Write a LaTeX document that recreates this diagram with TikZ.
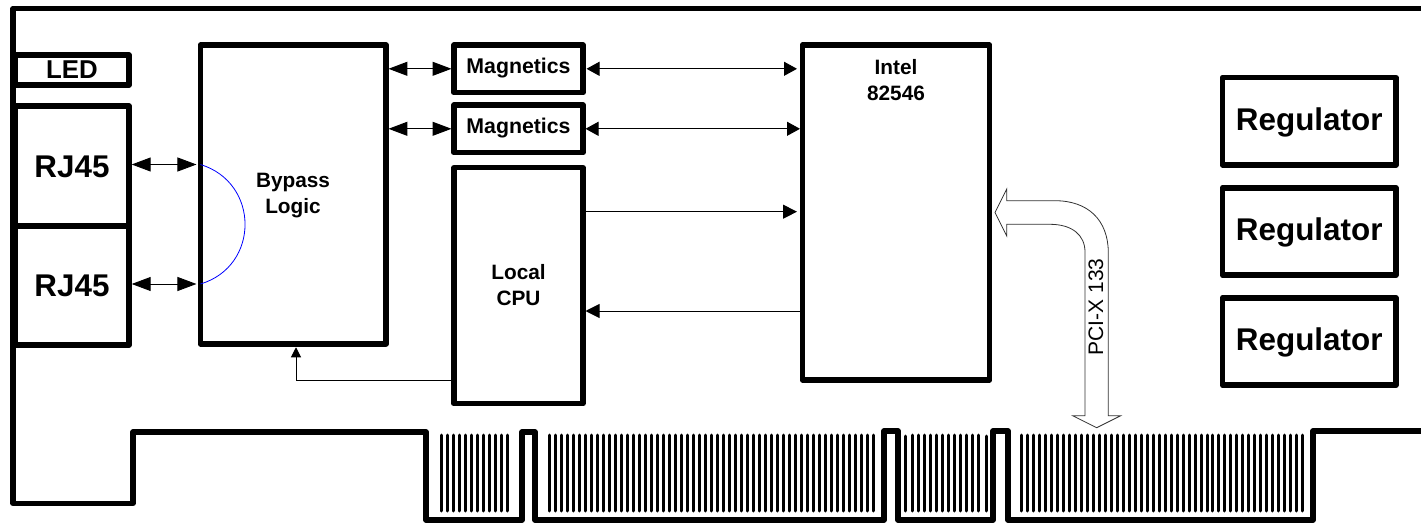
\documentclass[tikz,border=0pt]{standalone}
\usepackage{fontspec}
\setmainfont{Liberation Sans}
\usetikzlibrary{arrows.meta,calc}
\tikzset{
  x=1pt,y=-1pt,
  blockbox/.style={draw=black,line width=5.6pt,line join=round,fill=none,inner sep=0pt,outer sep=0pt,align=center,font=\bfseries},
  txtA/.style={font=\fontsize{31.4}{36}\bfseries\selectfont,yshift=-2pt},
  txtB/.style={font=\fontsize{20.8}{26}\bfseries\selectfont,yshift=-1.5pt},
  board/.style={draw=black,line width=5.4pt,line join=round},
  tooth/.style={draw=black,line width=3pt,line cap=round},
  wire/.style={draw=black,line width=1pt},
  bigdbl/.style={wire,{Triangle[length=19pt,width=14pt]}-{Triangle[length=19pt,width=14pt]}},
  smalldbl/.style={wire,{Triangle[length=13pt,width=14pt]}-{Triangle[length=13pt,width=14pt]}},
  oneway/.style={wire,-{Triangle[length=14pt,width=14pt]}},
  upway/.style={wire,-{Triangle[length=10pt,width=10pt]}},
  bigarrow/.style={draw=black!80,line width=0.8pt,line join=miter,fill=white},
}
\begin{document}
\begin{tikzpicture}
\useasboundingbox (0,0) rectangle (1421,524);
% board outline
\draw[board] (1421,8.5) -- (13,8.5) -- (13,503.5) -- (133,503.5) -- (133,432) -- (426,432) -- (426,520)
  -- (522,520) -- (522,432) -- (535,432) -- (535,520) -- (884,520) -- (884,431) -- (898,431) -- (898,520)
  -- (993,520) -- (993,431) -- (1008,431) -- (1008,520) -- (1313,520) -- (1313,431) -- (1421,431);
% edge-connector teeth
\foreach \k in {0,...,11} \draw[tooth] ({441+6*\k},435) -- ({441+6*\k},511);
\foreach \k in {0,...,54} \draw[tooth] ({549+6.01*\k},435) -- ({549+6.01*\k},511);
\foreach \k in {0,...,11} \draw[tooth] ({912.7+6*\k},435) -- ({912.7+6*\k},511);
\draw[tooth] (905.7,436) -- (905.7,511);
\draw[tooth] (986.7,436) -- (986.7,511);
\foreach \k in {0,...,47} \draw[tooth] ({1021.3+5.99*\k},435) -- ({1021.3+5.99*\k},511);
% blocks
\node[blockbox,minimum width=114pt,minimum height=30pt] (led) at (72,70) {};
\node[font=\fontsize{25.8}{30}\bfseries\selectfont,inner sep=0pt] (ledtext) at (72,69.5) {LED};
\node[blockbox,minimum width=114pt,minimum height=120pt] (rja) at (72,166) {};
\node[txtA,inner sep=0pt] (rjatext) at (72,165) {RJ45};
\node[blockbox,minimum width=114pt,minimum height=119pt] (rjb) at (72,285.5) {};
\node[txtA,inner sep=0pt] (rjbtext) at (72,283.5) {RJ45};
\node[blockbox,minimum width=185.5pt,minimum height=298.5pt] (bypass) at (293.2,194.5) {};
\node[txtB,align=center,inner sep=0pt] (bypasstext) at (293,194.5) {Bypass\\Logic};
\node[blockbox,minimum width=129pt,minimum height=47.7pt] (maga) at (518.5,68.8) {};
\node[font=\fontsize{21.3}{24}\bfseries\selectfont,inner sep=0pt] (magatext) at (518.5,68) {Magnetics};
\node[blockbox,minimum width=129pt,minimum height=47.7pt] (magb) at (518.5,128.8) {};
\node[font=\fontsize{21.3}{24}\bfseries\selectfont,inner sep=0pt] (magbtext) at (518.5,128) {Magnetics};
\node[blockbox,minimum width=129pt,minimum height=236pt] (cpu) at (518.5,285.6) {};
\node[txtB,align=center,inner sep=0pt] (cputext) at (518.5,284) {Local\\CPU};
\node[blockbox,minimum width=187pt,minimum height=335pt] (intel) at (896,212.5) {};
\node[txtB,align=center,inner sep=0pt] (inteltext) at (896,78.5) {Intel\\82546};
\node[blockbox,minimum width=173.5pt,minimum height=87.3pt] (rega) at (1309.2,121.3) {};
\node[txtA,inner sep=0pt] (regatext) at (1309.2,120.5) {Regulator};
\node[blockbox,minimum width=173.5pt,minimum height=87.3pt] (regb) at (1309.2,231.5) {};
\node[txtA,inner sep=0pt] (regbtext) at (1309.2,230.5) {Regulator};
\node[blockbox,minimum width=173.5pt,minimum height=87.3pt] (regc) at (1309.2,341.5) {};
\node[txtA,inner sep=0pt] (regctext) at (1309.2,340.5) {Regulator};
% connectors
\draw[bigdbl] ($(rja.east)+(2.7,-1.5)$) -- ($(bypass.west |- rja.east)+(-4,-1.5)$);
\draw[bigdbl] ($(rjb.east)+(2.7,-1.5)$) -- ($(bypass.west |- rjb.east)+(-4,-1.5)$);
\draw[bigdbl] ($(bypass.east |- maga.west)+(2.5,0)$) -- ($(maga.west)+(-2.5,0)$);
\draw[bigdbl] ($(bypass.east |- magb.west)+(2.5,0)$) -- ($(magb.west)+(-2.5,0)$);
\draw[smalldbl] ($(maga.east)+(3.5,0)$) -- ($(intel.west |- maga.east)+(-5.5,0)$);
\draw[smalldbl] ($(magb.east)+(2.5,0)$) -- ($(intel.west |- magb.east)+(-2.5,0)$);
\draw[oneway] (cpu.east |- 0,211.7) -- ($(intel.west |- 0,211.7)+(-5.5,0)$);
\draw[oneway] (intel.west |- 0,311) -- ($(cpu.east |- 0,311)+(2.5,0)$);
\draw[upway] (cpu.west |- 0,380) -| ($(bypass.south)+(2.8,3.5)$);
\draw[draw=blue,line width=0.8pt] ($(bypass.west |- rja.east)+(0,-1.5)$) .. controls (259.9,182.7) and (259.9,266.3) .. ($(bypass.west |- rjb.east)+(0,-1.5)$);
% PCI-X bus arrow
\draw[bigarrow] (995,212.5) -- (1006.7,189) -- (1006.7,200.7) -- (1055,200.7)
  .. controls (1088,200.7) and (1108,220) .. (1108.3,252) -- (1108.3,415.7) -- (1120.7,415.7) -- (1096.7,427.7)
  -- (1072.7,415.7) -- (1085,415.7) -- (1085,252) .. controls (1085,235) and (1072,224.3) .. (1050,224.3)
  -- (1006.7,224.3) -- (1006.7,236) -- cycle;
\node[rotate=90,font=\fontsize{21}{24}\selectfont,inner sep=0pt] (pcix) at (1096,307) {PCI-X 133};
\end{tikzpicture}
\end{document}
